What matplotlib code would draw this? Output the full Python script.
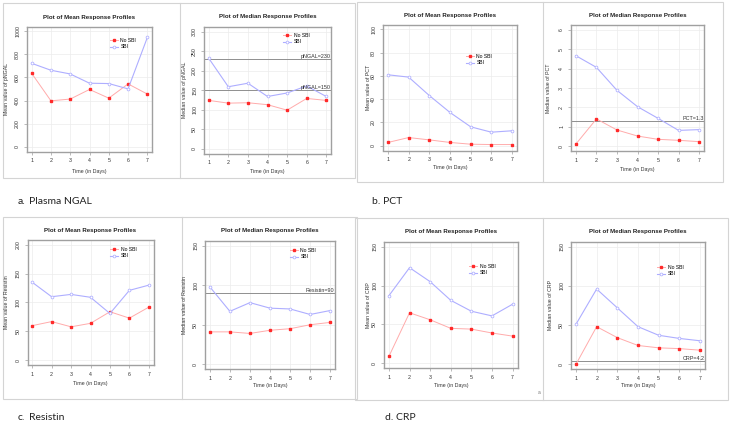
import matplotlib
matplotlib.use("Agg")
import matplotlib.pyplot as plt
from matplotlib.patches import Rectangle

W, H = 733, 424

days = [1, 2, 3, 4, 5, 6, 7]

ngal_mean_nosbi = [636, 398, 413, 496, 421, 544, 456]
ngal_mean_sbi = [722, 662, 630, 550, 547, 501, 946]
ngal_med_nosbi = [124, 117, 118, 113, 99, 129, 124]
ngal_med_sbi = [232, 159, 168, 134, 143, 161, 134]
pct_mean_nosbi = [2.9, 7.1, 5.1, 2.9, 1.4, 1.1, 1.1]
pct_mean_sbi = [60.9, 58.9, 43.1, 28.6, 16.3, 11.7, 12.9]
pct_med_nosbi = [0.12, 1.41, 0.84, 0.53, 0.36, 0.31, 0.24]
pct_med_sbi = [4.66, 4.06, 2.88, 2.04, 1.44, 0.82, 0.86]
res_mean_nosbi = [60, 67, 58, 64, 84, 73, 92]
res_mean_sbi = [135, 110, 114, 109, 81, 121, 130]
res_med_nosbi = [41, 41, 39, 43, 45, 50, 53]
res_med_sbi = [98, 67, 78, 71, 70, 63, 68]
crp_mean_nosbi = [9, 65, 56, 45, 44, 39, 35]
crp_mean_sbi = [87, 123, 105, 81, 67, 61, 76]
crp_med_nosbi = [0, 48, 34, 24, 21, 20, 18]
crp_med_sbi = [51, 96, 72, 48, 37, 33, 30]

ngal_mean_ticks = [0, 200, 400, 600, 800, 1000]
ngal_med_ticks = [0, 50, 100, 150, 200, 250, 300]
pct_mean_ticks = [0, 20, 40, 60, 80, 100]
pct_med_ticks = [0, 1, 2, 3, 4, 5, 6]
res_mean_ticks = [0, 50, 100, 150, 200]
res_med_ticks = [0, 50, 100, 150]
crp_ticks = [0, 50, 100, 150]

mean_title = "Plot of Mean Response Profiles"
median_title = "Plot of Median Response Profiles"

plt.rcParams['font.family'] = ['Liberation Sans', 'DejaVu Sans']

fig = plt.figure(figsize=(W / 100, H / 100), dpi=100)
fig.patch.set_facecolor('white')


def fx(x):
    return x / W


def fy(y):
    return 1 - y / H


# panel layout: box (l, t, r, b) in pixels, title y, ylabel x, xlabel y, legend corner, ref lines
panels = [
    dict(box=(27, 26.5, 152, 151.5), ty=17, yl=7, xly=171, nos=ngal_mean_nosbi, sbi=ngal_mean_sbi,
         ticks=ngal_mean_ticks, title=mean_title, ylabel="Mean value of pNGAL", leg=(110, 38), refs=[]),
    dict(box=(204, 27, 331, 153.5), ty=16.5, yl=184, xly=171, nos=ngal_med_nosbi, sbi=ngal_med_sbi,
         ticks=ngal_med_ticks, title=median_title, ylabel="Median value of pNGAL", leg=(283, 33),
         refs=[(230, "pNGAL=230"), (150, "pNGAL=150")]),
    dict(box=(383, 24.5, 517, 150.5), ty=15, yl=368, xly=168, nos=pct_mean_nosbi, sbi=pct_mean_sbi,
         ticks=pct_mean_ticks, title=mean_title, ylabel="Mean value of PCT", leg=(466, 54), refs=[]),
    dict(box=(571, 25, 704, 151), ty=15.3, yl=548, xly=169, nos=pct_med_nosbi, sbi=pct_med_sbi,
         ticks=pct_med_ticks, title=median_title, ylabel="Median value of PCT", leg=None,
         refs=[(1.3, "PCT=1.3")]),
    dict(box=(27.5, 240, 153.5, 365), ty=231, yl=7, xly=384, nos=res_mean_nosbi, sbi=res_mean_sbi,
         ticks=res_mean_ticks, title=mean_title, ylabel="Mean value of Resistin", leg=(110, 247), refs=[]),
    dict(box=(205, 241, 335, 369), ty=231, yl=185, xly=386, nos=res_med_nosbi, sbi=res_med_sbi,
         ticks=res_med_ticks, title=median_title, ylabel="Median value of Resistin", leg=(290, 248),
         refs=[(90, "Resistin=90")]),
    dict(box=(384, 242, 517.5, 368), ty=232, yl=368, xly=386, nos=crp_mean_nosbi, sbi=crp_mean_sbi,
         ticks=crp_ticks, title=mean_title, ylabel="Mean value of CRP", leg=(469, 264), refs=[]),
    dict(box=(571, 242, 705, 369), ty=232, yl=550, xly=386, nos=crp_med_nosbi, sbi=crp_med_sbi,
         ticks=crp_ticks, title=median_title, ylabel="Median value of CRP", leg=(657, 265),
         refs=[(4.2, "CRP=4.2")]),
]

red_line = '#ffabab'
red_pt = '#ff2a2a'
blue_line = '#aeaeff'
blue_pt = '#b4b4ff'

for p in panels:
    l, t, r, b = p['box']
    ax = fig.add_axes([fx(l), fy(b), fx(r - l), (b - t) / H])
    lo, hi = p['ticks'][0], p['ticks'][-1]
    pad = 0.04 * (hi - lo)
    ax.set_ylim(lo - pad, hi + pad)
    ax.set_xlim(1 - 0.24, 7 + 0.24)
    ax.set_xticks(days)
    ax.set_yticks(p['ticks'])
    ax.grid(True, color='#ececec', lw=0.5)
    ax.set_axisbelow(True)
    for s in ax.spines.values():
        s.set_color('#a0a0a0')
        s.set_linewidth(1.0)
    ax.tick_params(length=2, width=0.4, color='#888888', labelsize=3.8, labelcolor='#333333', pad=3)
    for lab in ax.get_yticklabels():
        lab.set_rotation(90)
        lab.set_va('center')

    for val, txt in p['refs']:
        ax.axhline(val, color='#8f8f8f', lw=0.7)
        ax.text(7.22, val, txt, ha='right', va='bottom', fontsize=3.9, color='#333333')

    ax.plot(days, p['nos'], color=red_line, lw=0.7, marker='s', ms=1.8,
            mfc=red_pt, mec=red_pt, label="No SBI")
    ax.plot(days, p['sbi'], color=blue_line, lw=0.8, marker='o', ms=2.0,
            mfc='white', mec=blue_pt, mew=0.6, label="SBI")

    if p['leg'] is not None:
        lx, ly = p['leg']
        ax.legend(loc='upper left', bbox_to_anchor=((lx - l) / (r - l), (b - ly) / (b - t)),
                  frameon=False, fontsize=3.6, handlelength=1.6, handletextpad=0.5,
                  labelspacing=0.25, borderpad=0, borderaxespad=0)

    fig.text(fx((l + r) / 2), fy(p['ty']), p['title'], ha='center', va='center',
             fontsize=4.4, fontweight='bold', color='#222222')
    fig.text(fx((l + r) / 2), fy(p['xly']), "Time (in Days)", ha='center', va='center',
             fontsize=3.8, color='#333333')
    fig.text(fx(p['yl']), fy((t + b) / 2), p['ylabel'], ha='center', va='center',
             rotation=90, fontsize=3.8, color='#333333')

# pasted picture frames
frames = [(3, 3, 355, 178, 180), (357, 2, 723, 182, 543),
          (3, 217, 357, 399, 182), (355, 218, 728, 400, 543)]
for l, t, r, b, d in frames:
    fig.patches.append(Rectangle((fx(l), fy(b)), fx(r - l), (b - t) / H, transform=fig.transFigure,
                                 fill=False, ec='#d4d4d4', lw=0.8))
    fig.lines.append(plt.Line2D([fx(d), fx(d)], [fy(b), fy(t)], transform=fig.transFigure,
                                color='#d4d4d4', lw=0.8))

cap_font = ['Lato', 'DejaVu Sans']
fig.text(fx(18), fy(201), "a.", fontsize=7.5, va='center', family=cap_font, color='#222222')
fig.text(fx(29), fy(201), "Plasma NGAL", fontsize=7.5, va='center', family=cap_font, color='#222222')
fig.text(fx(372), fy(201), "b. PCT", fontsize=7.5, va='center', family=cap_font, color='#222222')
fig.text(fx(18), fy(418), "c.", fontsize=7.5, va='center', family=cap_font, color='#222222')
fig.text(fx(29), fy(418), "Resistin", fontsize=7.5, va='center', family=cap_font, color='#222222')
fig.text(fx(385), fy(418), "d. CRP", fontsize=7.5, va='center', family=cap_font, color='#222222')
fig.text(fx(538), fy(393), "a", fontsize=3.5, va='center', color='#777777')

fig.savefig("out.png", dpi=100, facecolor='white')
